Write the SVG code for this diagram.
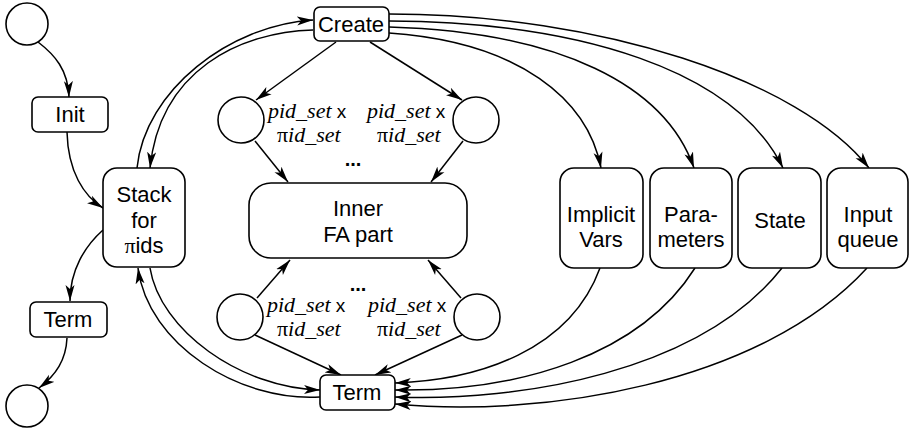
<svg xmlns="http://www.w3.org/2000/svg" width="911" height="429" viewBox="0 0 911 429">
  <style>
    .box { fill: #fff; stroke: #000; stroke-width: 1.6; }
    .lbl { font-family: "Liberation Sans", Arial, sans-serif; font-size: 22px; text-anchor: middle; fill: #000; }
    .it { font-family: "Liberation Serif", "Times New Roman", serif; font-style: italic; font-size: 22px; fill: #000; }
    .up { font-family: "Liberation Serif", "Times New Roman", serif; font-style: normal; }
    .x { font-family: "Liberation Sans", Arial, sans-serif; font-style: normal; font-size: 19px; }
    .dots { font-family: "Liberation Sans", Arial, sans-serif; font-weight: bold; font-size: 20px; text-anchor: middle; }
    .edge { fill: none; stroke: #000; stroke-width: 1.5; marker-end: url(#arr); }
  </style>
  <defs>
    <marker id="arr" markerUnits="userSpaceOnUse" markerWidth="17" markerHeight="10" refX="16" refY="5" orient="auto">
      <path d="M0,0.5 L16,5 L0,9.5 L4,5 z" fill="#000"/>
    </marker>
  </defs>
  <rect width="911" height="429" fill="#fff"/>

  <g id="connectors">
    <path class="edge" d="M38,42 C55,55 68,70 69,97"/>
    <path class="edge" d="M67,132 C68,172 84,196 103,208"/>
    <path class="edge" d="M103,230 C85,246 70,270 70,301"/>
    <path class="edge" d="M67,338 C66,360 56,375 39,388"/>
    <!-- Stack <-> Create -->
    <path class="edge" d="M137,168 C145,90 230,25 313,20"/>
    <path class="edge" d="M313,30 C240,32 160,70 150,168"/>
    <!-- Stack <-> Term -->
    <path class="edge" d="M320,397 C240,402 148,345 138,268"/>
    <path class="edge" d="M150,268 C160,330 240,388 320,390"/>
    <!-- Create to places, places to Inner and Term -->
    <path class="edge" d="M336,42 L256,100"/>
    <path class="edge" d="M370,42 L462,100"/>
    <path class="edge" d="M255,141 L288,182"/>
    <path class="edge" d="M463,141 L431,182"/>
    <path class="edge" d="M257,298 L290,260"/>
    <path class="edge" d="M461,298 L428,260"/>
    <path class="edge" d="M255,335 L341,375"/>
    <path class="edge" d="M462,335 L375,375"/>
    <!-- Create to data boxes -->
    <path class="edge" d="M389,14 C600,14 800,80 869,168"/>
    <path class="edge" d="M389,21 C580,22 735,70 783,168"/>
    <path class="edge" d="M389,27 C560,32 665,85 694,168"/>
    <path class="edge" d="M389,33 C520,42 588,100 601,168"/>
    <!-- data boxes to Term -->
    <path class="edge" d="M600,268 C570,350 480,380 395,383"/>
    <path class="edge" d="M695,268 C640,355 520,392 395,390"/>
    <path class="edge" d="M782,268 C700,372 520,402 395,397"/>
    <path class="edge" d="M867,268 C760,385 540,418 395,404"/>
  </g>

  <g id="start"><circle cx="27" cy="24" r="21" class="box"/></g>
  <g id="init"><rect x="32" y="97" width="76" height="35" rx="6" class="box"/><text class="lbl" x="70" y="122">Init</text></g>
  <g id="stack"><rect x="103" y="168" width="82" height="99" rx="14" class="box"/>
    <text class="lbl" x="144" y="202">Stack</text>
    <text class="lbl" x="144" y="228">for</text>
    <text class="lbl" x="144" y="253"><tspan class="up">π</tspan>ids</text></g>
  <g id="term-left"><rect x="30" y="302" width="77" height="35" rx="6" class="box"/><text class="lbl" x="68" y="327">Term</text></g>
  <g id="end"><circle cx="27" cy="406" r="21" class="box"/></g>

  <g id="create"><rect x="314" y="7" width="75" height="34" rx="6" class="box"/><text class="lbl" x="351" y="32">Create</text></g>

  <g id="place-ul"><circle cx="241" cy="120" r="23" class="box"/></g>
  <g id="place-ur"><circle cx="476" cy="120" r="23" class="box"/></g>
  <g id="place-ll"><circle cx="240" cy="317" r="23" class="box"/></g>
  <g id="place-lr"><circle cx="477" cy="317" r="23" class="box"/></g>

  <g id="labels-upper">
    <text class="it" x="268" y="118">pid_set<tspan class="x"> x</tspan><tspan x="277" y="142" class="up">π</tspan>id_set</text>
    <text class="it" x="367" y="118">pid_set<tspan class="x"> x</tspan><tspan x="377" y="142" class="up">π</tspan>id_set</text>
    <text class="dots" x="353" y="166">...</text>
  </g>

  <g id="inner"><rect x="249" y="183" width="218" height="75" rx="22" class="box"/>
    <text class="lbl" x="358" y="216">Inner</text>
    <text class="lbl" x="358" y="242">FA part</text></g>

  <g id="labels-lower">
    <text class="dots" x="358" y="291">...</text>
    <text class="it" x="267" y="312">pid_set<tspan class="x"> x</tspan><tspan x="277" y="336" class="up">π</tspan>id_set</text>
    <text class="it" x="368" y="312">pid_set<tspan class="x"> x</tspan><tspan x="377" y="336" class="up">π</tspan>id_set</text>
  </g>

  <g id="term"><rect x="320" y="375" width="75" height="35" rx="6" class="box"/><text class="lbl" x="357" y="400">Term</text></g>

  <g id="implicit"><rect x="560" y="168" width="83" height="100" rx="14" class="box"/>
    <text class="lbl" x="601" y="222">Implicit</text><text class="lbl" x="601" y="247">Vars</text></g>
  <g id="params"><rect x="650" y="168" width="82" height="100" rx="14" class="box"/>
    <text class="lbl" x="691" y="222">Para-</text><text class="lbl" x="691" y="247">meters</text></g>
  <g id="state"><rect x="738" y="168" width="83" height="100" rx="14" class="box"/>
    <text class="lbl" x="780" y="228">State</text></g>
  <g id="input"><rect x="827" y="168" width="81" height="100" rx="14" class="box"/>
    <text class="lbl" x="868" y="222">Input</text><text class="lbl" x="868" y="247">queue</text></g>
</svg>
